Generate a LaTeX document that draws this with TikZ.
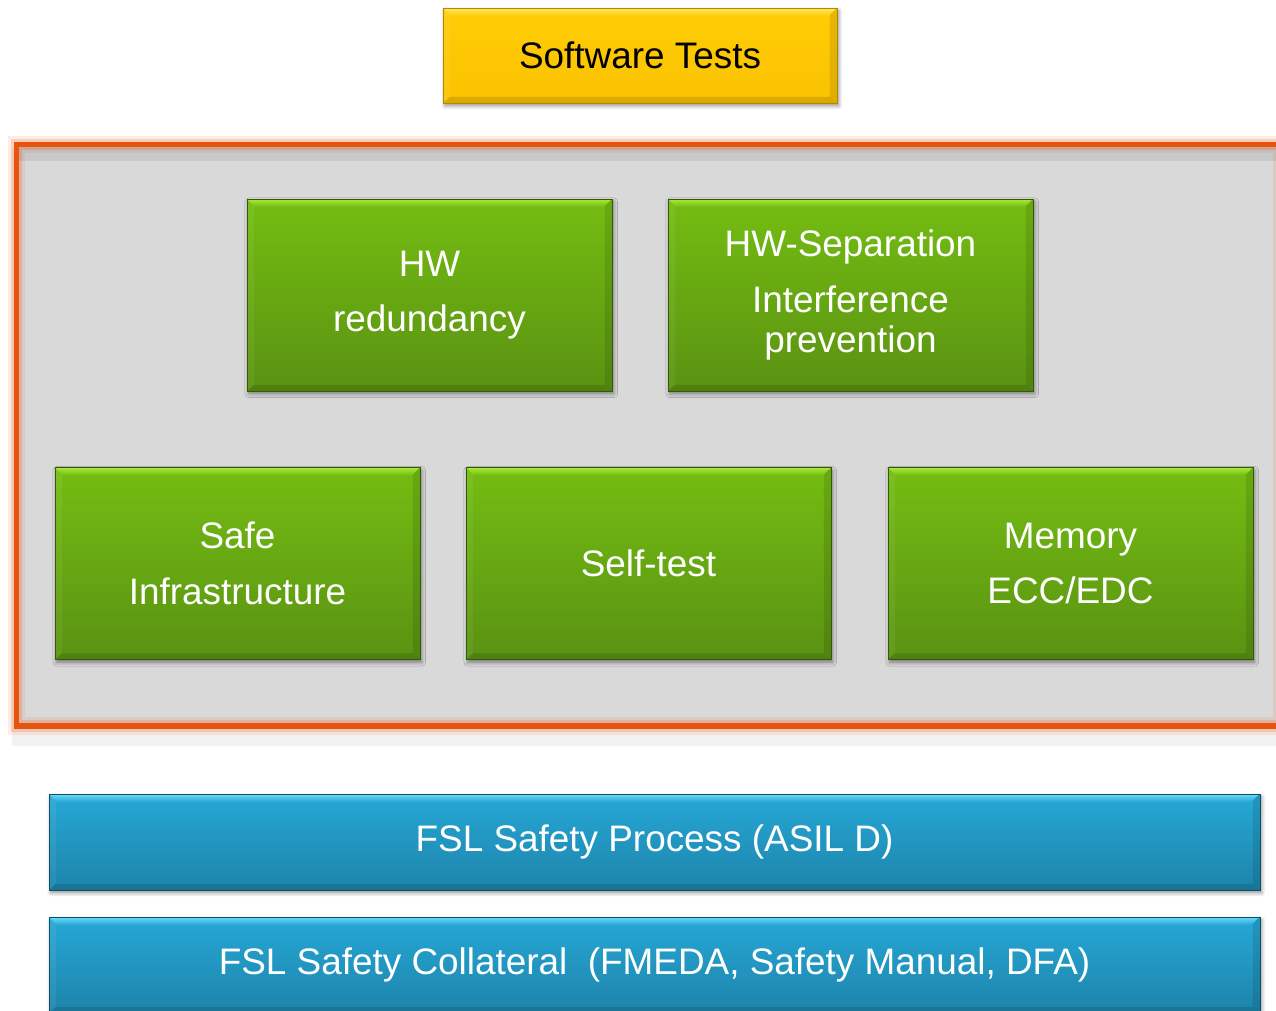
\documentclass[tikz,border=0pt]{standalone}
\usepackage{fontspec}
\setmainfont{Liberation Sans}
\usetikzlibrary{shadows.blur,fadings}

\definecolor{gtop}{HTML}{74BD12}
\definecolor{gbot}{HTML}{5A9212}
\definecolor{glight}{HTML}{A8EA3A}
\definecolor{btop}{HTML}{26A8D6}
\definecolor{bbot}{HTML}{1D84AA}
\definecolor{blight}{HTML}{6ADCFA}
\definecolor{ytop}{HTML}{FFCD05}
\definecolor{ybot}{HTML}{FAC200}
\definecolor{ylight}{HTML}{FFE860}
\definecolor{frameorange}{HTML}{E8530E}
\definecolor{panelgray}{HTML}{D9D9D9}

\tikzset{
  tile/.style={rectangle, inner sep=0pt, align=center,
    font=\fontsize{21}{22.7}\selectfont,
    blur shadow={shadow xshift=1pt, shadow yshift=-1.6pt,
      shadow blur radius=2.2pt, shadow blur steps=6, shadow opacity=45}},
  bevel/.style={path picture={
    \coordinate (bnw) at (path picture bounding box.north west);
    \coordinate (bne) at (path picture bounding box.north east);
    \coordinate (bsw) at (path picture bounding box.south west);
    \coordinate (bse) at (path picture bounding box.south east);
    \fill[#1, path fading=south] (bnw) -- (bne) -- ([shift={(-8,8)}]bne) -- ([shift={(8,8)}]bnw) -- cycle;
    \fill[white, opacity=.06] (bnw) -- ([shift={(7,7)}]bnw) -- ([shift={(7,-7)}]bsw) -- (bsw) -- cycle;
    \fill[black, opacity=.10] (bne) -- ([shift={(-7,7)}]bne) -- ([shift={(-7,-6)}]bse) -- (bse) -- cycle;
    \fill[black, opacity=.12] (bsw) -- ([shift={(7,-6)}]bsw) -- ([shift={(-7,-6)}]bse) -- (bse) -- cycle;
  }},
  greentile/.style={tile, bevel=glight, top color=gtop, bottom color=gbot,
    draw=gbot!60!black, line width=.35pt, text=white,
    minimum width=7.3cm, minimum height=3.84cm},
  bluetile/.style={tile, bevel=blight, top color=btop, bottom color=bbot,
    draw=bbot!60!black, line width=.35pt, text=white,
    minimum width=24.22cm, minimum height=1.92cm},
  yellowtile/.style={tile, bevel=ylight, top color=ytop, bottom color=ybot,
    draw=ybot!70!black, line width=.35pt, text=black,
    minimum width=7.88cm, minimum height=1.9cm},
}

\begin{document}
\begin{tikzpicture}[x=0.02cm, y=-0.02cm]
\useasboundingbox (0,0) rectangle (1276,1011);
\clip (0,0) rectangle (1276,1011);

% grouping panel with its orange frame
\fill[black, opacity=.05] (12,150) rectangle (1290,746);
\fill[panelgray] (16.5,144.5) rectangle (1282,726);
\draw[frameorange, opacity=.10, line width=10pt] (16.5,144.5) rectangle (1282,726);
\draw[frameorange, opacity=.20, line width=6.5pt] (16.5,144.5) rectangle (1282,726);
\fill[black, opacity=.07] (19,147) rectangle (1282,161);
\draw[frameorange, line width=3.1pt] (16.5,144.5) rectangle (1282,726);

% top layer
\node[yellowtile] (sw) at (640,55.5) {Software Tests};

% safety mechanisms
\node[greentile] (hwr) at (429.5,295) {HW\\[9pt]redundancy};
\node[greentile] (hws) at (850.5,295) {HW-Separation\\[9pt]Interference\\prevention};
\node[greentile] (safe) at (237.5,563.5) {Safe\\[9pt]Infrastructure};
\node[greentile] (self) at (648.5,563.5) {Self-test};
\node[greentile] (mem) at (1070.5,563.5) {Memory\\[9pt]ECC/EDC};

% process and collateral
\node[bluetile] (proc) at (654.5,842) {FSL Safety Process (ASIL D)};
\node[bluetile] (coll) at (654.5,965) {FSL Safety Collateral\ \ (FMEDA, Safety Manual, DFA)};
\end{tikzpicture}
\end{document}
